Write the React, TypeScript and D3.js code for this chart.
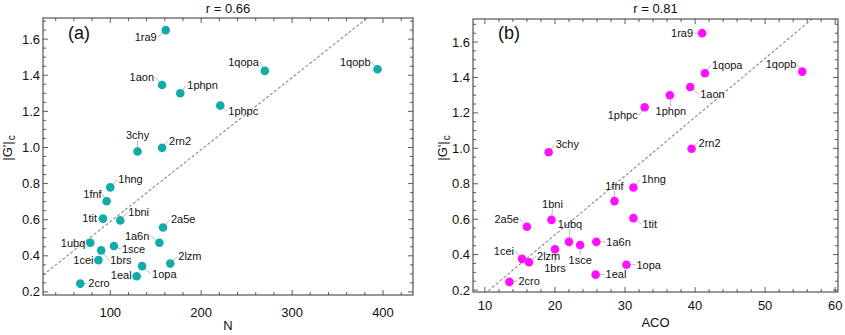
import React from "react";
import * as d3 from "d3";

// ---------- data ----------
const proteins = ["1ra9","1qopa","1qopb","1aon","1phpn","1phpc","3chy","2rn2","1hng","1fnf","1tit","1bni","2a5e","1ubq","1a6n","1sce","1brs","1cei","2lzm","1opa","1eal","2cro"];
const gValues = [1.65,1.424,1.433,1.346,1.30,1.232,0.978,0.998,0.779,0.702,0.606,0.596,0.557,0.472,0.472,0.454,0.43,0.376,0.357,0.343,0.287,0.246];
const nValues = [161,270,394,157,177,221,130,157,100,96,92,111,158,78,154,104,90,87,166,135,129,67];
const acoValues = [41.0,41.4,55.3,39.3,36.4,32.8,19.1,39.5,31.2,28.5,31.2,19.5,16.0,22.0,25.9,23.6,20.0,15.3,16.3,30.2,25.8,13.5];
const titles = ["r = 0.66", "r = 0.81"];
const panelTags = ["(a)", "(b)"];
const xLabels = ["N", "ACO"];
const fitA = { intercept: 0.190, slope: 0.00399 };
const fitB = { intercept: -0.152, slope: 0.0332 };
const xTicksA = [100, 200, 300, 400];
const xTicksB = [10, 20, 30, 40, 50, 60];
const yTicks = [0.2, 0.4, 0.6, 0.8, 1.0, 1.2, 1.4, 1.6];

// ---------- label layout (anchor, dx, dy) ----------
type Lab = [string, number, number];
const labelsA: Record<string, Lab> = {
  "1ra9": ["end", -9, 7], "1qopa": ["end", -6, -9], "1qopb": ["end", -7, -7],
  "1aon": ["end", -8, -8], "1phpn": ["start", 7, -8], "1phpc": ["start", 8, 6],
  "3chy": ["middle", 0, -16], "2rn2": ["start", 7, -7], "1hng": ["start", 8, -8],
  "1fnf": ["end", -5, -7], "1tit": ["end", -6, 0], "1bni": ["start", 8, -8],
  "2a5e": ["start", 8, -8], "1ubq": ["end", -5, 0], "1a6n": ["end", -10, -7],
  "1sce": ["start", 8, 3], "1brs": ["start", 9, 10], "1cei": ["end", -5, 0],
  "2lzm": ["start", 8, -7], "1opa": ["start", 10, 8], "1eal": ["end", -5, -1],
  "2cro": ["start", 8, 0],
};
const labelsB: Record<string, Lab> = {
  "1ra9": ["end", -9, 0], "1qopa": ["start", 7, -8], "1qopb": ["end", -6, -7],
  "1aon": ["start", 10, 7], "1phpn": ["middle", 1, 16], "1phpc": ["end", -7, 8],
  "3chy": ["start", 7, -8], "2rn2": ["start", 7, -6], "1hng": ["start", 8, -8],
  "1fnf": ["middle", 0, -15], "1tit": ["start", 9, 6], "1bni": ["middle", 1, -16],
  "2a5e": ["end", -8, -8], "1ubq": ["middle", 1, -18], "1a6n": ["start", 10, 0],
  "1sce": ["middle", 0, 15], "1brs": ["middle", 0, 19], "1cei": ["end", -8, -8],
  "2lzm": ["start", 8, -6], "1opa": ["start", 10, 0], "1eal": ["start", 10, 0],
  "2cro": ["start", 9, -1],
};

const FONT = "'Liberation Sans', Arial, Helvetica, sans-serif";

interface PanelProps {
  xs: number[];
  xDomain: [number, number];
  xRange: [number, number];
  yDomain: [number, number];
  yRange: [number, number];
  xTicks: number[];
  xMinorStep: number;
  fit: { intercept: number; slope: number };
  color: string;
  title: string;
  tag: string;
  xLabel: string;
  labels: Record<string, Lab>;
  tickLabelGap: number;
  yLabelX: number;
  id: string;
}

function Panel(p: PanelProps) {
  const x = d3.scaleLinear().domain(p.xDomain).range(p.xRange);
  const y = d3.scaleLinear().domain(p.yDomain).range(p.yRange);
  const [x0, x1] = p.xRange;
  const [yb, yt] = p.yRange;
  const cx = (x0 + x1) / 2;

  const xMinor = d3.range(Math.ceil(p.xDomain[0] / p.xMinorStep) * p.xMinorStep, p.xDomain[1], p.xMinorStep);
  const yMinor = d3.range(Math.ceil(p.yDomain[0] / 0.05) * 0.05, p.yDomain[1], 0.05);
  const isMajorX = (v: number) => p.xTicks.some((t) => Math.abs(t - v) < 1e-6);
  const isMajorY = (v: number) => yTicks.some((t) => Math.abs(t - v) < 1e-6);

  const fitLine = d3.line<number>().x((v) => x(v)).y((v) => y(p.fit.intercept + p.fit.slope * v));

  const pts = proteins.map((name, i) => ({ name, xv: p.xs[i], yv: gValues[i] }));

  return (
    <g fontFamily={FONT}>
      <defs>
        <clipPath id={p.id}>
          <rect x={x0} y={yt} width={x1 - x0} height={yb - yt} />
        </clipPath>
      </defs>
      <text x={cx} y={13} fontSize={13} textAnchor="middle" fill="#111">{p.title}</text>
      {/* ticks */}
      {xMinor.map((v, i) => {
        const len = isMajorX(v) ? 5 : 3;
        return (
          <g key={"xt" + i} stroke="#333" strokeWidth={0.8}>
            <line x1={x(v)} x2={x(v)} y1={yb} y2={yb - len} />
            <line x1={x(v)} x2={x(v)} y1={yt} y2={yt + len} />
          </g>
        );
      })}
      {yMinor.map((v, i) => {
        const len = isMajorY(v) ? 5 : 3;
        return (
          <g key={"yt" + i} stroke="#333" strokeWidth={0.8}>
            <line x1={x0} x2={x0 + len} y1={y(v)} y2={y(v)} />
            <line x1={x1} x2={x1 - len} y1={y(v)} y2={y(v)} />
          </g>
        );
      })}
      {p.xTicks.map((v) => (
        <text key={"xl" + v} x={x(v)} y={yb + p.tickLabelGap} fontSize={13} textAnchor="middle" fill="#111">{v}</text>
      ))}
      {yTicks.map((v) => (
        <text key={"yl" + v} x={x0 - 3} y={y(v)} dy="0.35em" fontSize={13} textAnchor="end" fill="#111">{v.toFixed(1)}</text>
      ))}
      <text x={cx} y={yb + 35} fontSize={13} textAnchor="middle" fill="#111">{p.xLabel}</text>
      <text transform={`translate(${p.yLabelX},148) rotate(-90)`} fontSize={13} textAnchor="middle" fill="#111">
        |G'|<tspan fontSize={10} dy={3} dx={1}>c</tspan>
      </text>
      {/* fit line */}
      <path
        clipPath={`url(#${p.id})`}
        d={fitLine([p.xDomain[0], p.xDomain[1]]) || ""}
        stroke="#8a8a8a"
        strokeWidth={1.1}
        strokeDasharray="3,2"
        fill="none"
      />
      {/* leaders */}
      {pts.map((d) => {
        const [anchor, dx, dy] = p.labels[d.name];
        const px = x(d.xv), py = y(d.yv);
        let ex = px + dx, ey = py + dy;
        if (anchor === "middle") ey = py + dy + (dy < 0 ? 5 : -5);
        else ex = px + dx + (dx < 0 ? 1 : -1);
        return <line key={"ld" + d.name} x1={px} y1={py} x2={ex} y2={ey} stroke="#aaa" strokeWidth={0.8} />;
      })}
      {pts.map((d) => (
        <circle key={"c" + d.name} cx={x(d.xv)} cy={y(d.yv)} r={4.3} fill={p.color} />
      ))}
      {pts.map((d) => {
        const [anchor, dx, dy] = p.labels[d.name];
        return (
          <text key={"t" + d.name} x={x(d.xv) + dx} y={y(d.yv) + dy} dy="0.35em" fontSize={11} textAnchor={anchor} fill="#111">
            {d.name}
          </text>
        );
      })}
      <text x={x0 + 25} y={39} fontSize={18} fill="#111">{p.tag}</text>
      <rect x={x0} y={yt} width={x1 - x0} height={yb - yt} fill="none" stroke="#333" strokeWidth={1} />
    </g>
  );
}

export default function App() {
  return (
    <svg width={845} height={335} style={{ position: "absolute", left: 0, top: 0, background: "#fff" }}>
      <rect width={845} height={335} fill="#fff" />
      <Panel
        id="clipA"
        xs={nValues}
        xDomain={[26, 433]}
        xRange={[43, 413]}
        yDomain={[0.183, 1.717]}
        yRange={[295, 18]}
        xTicks={xTicksA}
        xMinorStep={20}
        fit={fitA}
        color="#13aaaa"
        title={titles[0]}
        tag={panelTags[0]}
        xLabel={xLabels[0]}
        labels={labelsA}
        tickLabelGap={22}
        yLabelX={12}
      />
      <Panel
        id="clipB"
        xs={acoValues}
        xDomain={[8.3, 60.4]}
        xRange={[473, 838]}
        yDomain={[0.189, 1.730]}
        yRange={[292, 19]}
        xTicks={xTicksB}
        xMinorStep={2}
        fit={fitB}
        color="#ff10ff"
        title={titles[1]}
        tag={panelTags[1]}
        xLabel={xLabels[1]}
        labels={labelsB}
        tickLabelGap={18}
        yLabelX={447}
      />
    </svg>
  );
}
